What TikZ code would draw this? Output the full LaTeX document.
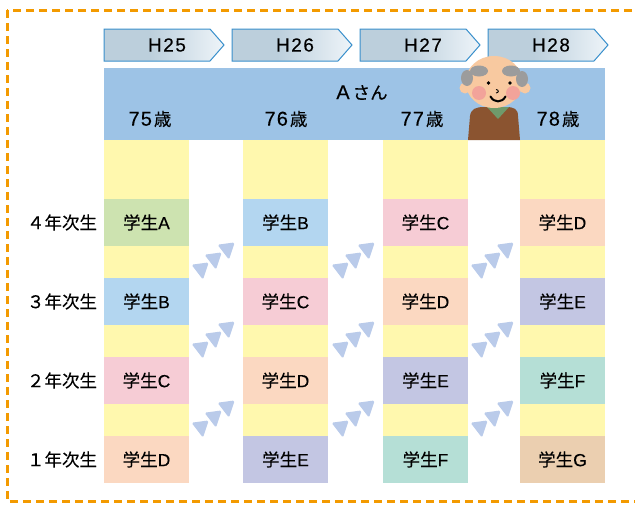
\documentclass[tikz,border=0pt]{standalone}
\usepackage{fontspec}
\setmainfont[FakeBold=0.25]{Liberation Sans}
\newfontfamily\jp[FakeBold=0.25]{Noto Sans CJK JP}

\definecolor{frameorange}{HTML}{F39A00}
\definecolor{arrowedge}{HTML}{3A90CC}
\definecolor{yearL}{HTML}{BCCFDC}
\definecolor{yearR}{HTML}{EEF4F9}
\definecolor{headblue}{HTML}{9DC3E6}
\definecolor{colyellow}{HTML}{FFF8AE}
\definecolor{stA}{HTML}{CDE3B0}
\definecolor{stB}{HTML}{B3D6F0}
\definecolor{stC}{HTML}{F6CCD5}
\definecolor{stD}{HTML}{FBD8C1}
\definecolor{stE}{HTML}{C3C6E3}
\definecolor{stF}{HTML}{B5DFD6}
\definecolor{stG}{HTML}{EBCFB0}
\definecolor{tri}{HTML}{BACBEA}
\definecolor{skin}{HTML}{F8C9A0}
\definecolor{cheek}{HTML}{F2A39A}
\definecolor{hair}{HTML}{9C9C9C}
\definecolor{coat}{HTML}{8B5430}
\definecolor{collar}{HTML}{6F9A6B}

% left part of the year tabs stays dark, then fades to the right
\pgfdeclarehorizontalshading{yearshade}{100bp}{color(0bp)=(yearL); color(25bp)=(yearL); color(44bp)=(yearL); color(75bp)=(yearR); color(100bp)=(yearR)}

\begin{document}
\begin{tikzpicture}[x=1pt,y=-1pt,
  frame/.style={draw=frameorange, line width=3pt, dash pattern=on 8pt off 5pt},
  yeararrow/.style={shading=yearshade, draw=arrowedge, line width=1pt},
  yeartext/.style={font=\fontsize{19}{22}\selectfont\addfontfeatures{LetterSpace=8}, inner sep=0pt},
  agetext/.style={font=\fontsize{20}{22}\selectfont, inner sep=0pt},
  cell/.style={minimum width=85pt, minimum height=47pt, inner sep=0pt,
    font=\fontsize{17.5}{20}\selectfont},
  rowlabel/.style={font=\jp\fontsize{17.5}{20}\selectfont, inner sep=0pt},
  pics/stepmark/.style={code={
    \fill[tri, rounded corners=1.6pt] (-9.5,-4.3) -- (7.7,-6.6) -- (2,10.7) -- cycle;}}
]
\useasboundingbox (0,0) rectangle (635,506);

% dashed outer frame (runs past the right edge)
\draw[frame] (7,10) rectangle (680,501);

% year tabs
\foreach \lab [count=\i from 0] in {H25,H26,H27,H28} {
  \pgfmathsetmacro\xa{104+128*\i}
  \shadedraw[yeararrow] (\xa,29) -- ++(106,0) -- ++(14,16) -- ++(-14,16) -- ++(-106,0) -- cycle;
  \node[yeartext] (y\lab) at (\xa+63,45) {\lab};
}

% age band
\fill[headblue] (104,68) rectangle (605,140);
\node[agetext] (asan) at (362,92.5) {A\hspace{3pt}{\jp\fontsize{17.5}{20}\selectfont さん}};
\node[agetext] (age75) at (150,119) {\addfontfeatures{LetterSpace=6}75\hspace{2pt}{\jp\fontsize{17.5}{20}\selectfont 歳}};
\node[agetext] (age76) at (286,119) {\addfontfeatures{LetterSpace=6}76\hspace{2pt}{\jp\fontsize{17.5}{20}\selectfont 歳}};
\node[agetext] (age77) at (422,119) {\addfontfeatures{LetterSpace=6}77\hspace{2pt}{\jp\fontsize{17.5}{20}\selectfont 歳}};
\node[agetext] (age78) at (558,119) {\addfontfeatures{LetterSpace=6}78\hspace{2pt}{\jp\fontsize{17.5}{20}\selectfont 歳}};

% yellow year columns
\foreach \xl in {104,243,383,520}
  \fill[colyellow] (\xl,140) rectangle (\xl+85,483);

% student cells
\node[cell, fill=stA] (s11) at (146.5,222.5) {{\jp 学生}A};
\node[cell, fill=stB] (s12) at (146.5,301.5) {{\jp 学生}B};
\node[cell, fill=stC] (s13) at (146.5,380.5) {{\jp 学生}C};
\node[cell, fill=stD] (s14) at (146.5,459.5) {{\jp 学生}D};

\node[cell, fill=stB] (s21) at (285.5,222.5) {{\jp 学生}B};
\node[cell, fill=stC] (s22) at (285.5,301.5) {{\jp 学生}C};
\node[cell, fill=stD] (s23) at (285.5,380.5) {{\jp 学生}D};
\node[cell, fill=stE] (s24) at (285.5,459.5) {{\jp 学生}E};

\node[cell, fill=stC] (s31) at (425.5,222.5) {{\jp 学生}C};
\node[cell, fill=stD] (s32) at (425.5,301.5) {{\jp 学生}D};
\node[cell, fill=stE] (s33) at (425.5,380.5) {{\jp 学生}E};
\node[cell, fill=stF] (s34) at (425.5,459.5) {{\jp 学生}F};

\node[cell, fill=stD] (s41) at (562.5,222.5) {{\jp 学生}D};
\node[cell, fill=stE] (s42) at (562.5,301.5) {{\jp 学生}E};
\node[cell, fill=stF] (s43) at (562.5,380.5) {{\jp 学生}F};
\node[cell, fill=stG] (s44) at (562.5,459.5) {{\jp 学生}G};

% grade labels
\node[rowlabel] (g4) at (62,222.5) {４年次生};
\node[rowlabel] (g3) at (62,301.5) {３年次生};
\node[rowlabel] (g2) at (62,380.5) {２年次生};
\node[rowlabel] (g1) at (62,459.5) {１年次生};

% promotion marks between the years
\foreach \gx in {214,354,493}
  \foreach \gy in {259,338,417} {
    \pic at (\gx-13,\gy+10) {stepmark};
    \pic at (\gx,\gy) {stepmark};
    \pic at (\gx+13,\gy-10) {stepmark};
  }

% the old man
\fill[coat] (468,140) -- (470,116) .. controls (471,109) and (476,107) .. (484,107)
  -- (506,107) .. controls (514,107) and (518,109) .. (518,116) -- (520,140) -- cycle;
\fill[collar] (487,107) -- (509,107) -- (498,119) -- cycle;
\fill[skin] (465,88) circle (5.5);
\fill[skin] (525,88) circle (5.5);
\fill[skin] (494,82) ellipse (28.5 and 26);
\fill[hair] (479,71) ellipse (9 and 5.5);
\fill[hair] (467,78) ellipse (6 and 8);
\fill[hair] (511,71) ellipse (9 and 5.5);
\fill[hair] (522,79) ellipse (6 and 8);
\fill[cheek] (479,93) circle (7);
\fill[cheek] (513,93) circle (7);
\fill[black] (488.5,83) circle (1.9);
\fill[black] (510,83) circle (1.9);
\draw[black, line width=0.9pt] (496,89.5) .. controls (499,89.5) and (499,93) .. (496,93);
\draw[black, line width=2pt, line cap=round] (490.5,96.5) .. controls (494,103) and (502,103) .. (505.5,96.5);
\end{tikzpicture}
\end{document}
